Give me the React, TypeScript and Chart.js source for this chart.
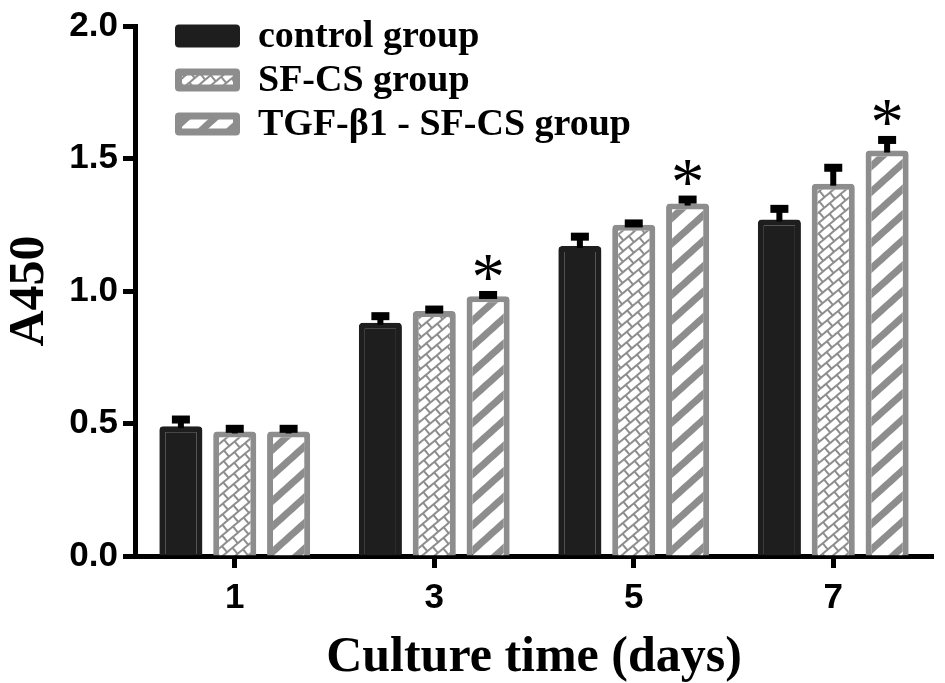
import { useEffect, useRef } from "react"
import { Chart, registerables } from "chart.js"

Chart.register(...registerables)

// values (A450 by culture day)
const days = ["1", "3", "5", "7"]
const groupNames = ["control group", "SF-CS group", "TGF-β1 - SF-CS group"]
const controlValues = [0.49, 0.88, 1.17, 1.27]
const controlErrors = [0.025, 0.025, 0.035, 0.04]
const sfcsValues = [0.47, 0.925, 1.25, 1.405]
const sfcsErrors = [0.01, 0.005, 0.005, 0.06]
const tgfValues = [0.47, 0.98, 1.33, 1.53]
const tgfErrors = [0.01, 0.005, 0.015, 0.04]
const tgfSignificant = [false, true, true, true]

const GRAY = "#8d8d8d"
const DARK = "#1e1e1e"
const SERIF = "'Liberation Serif', 'Times New Roman', serif"
const SANS = "'Liberation Sans', Arial, sans-serif"

function makeBrick(ctx: CanvasRenderingContext2D) {
  const t = document.createElement("canvas")
  t.width = 14
  t.height = 16
  const c = t.getContext("2d")!
  c.fillStyle = "#fff"
  c.fillRect(0, 0, 14, 16)
  c.fillStyle = GRAY
  c.fillRect(0, 0, 14, 2)
  c.fillRect(0, 8, 14, 2)
  c.fillRect(0, 0, 2, 8)
  c.fillRect(7, 8, 2, 8)
  const p = ctx.createPattern(t, "repeat")!
  p.setTransform(new DOMMatrix().rotate(-40))
  return p
}

function makeStripes(ctx: CanvasRenderingContext2D) {
  const t = document.createElement("canvas")
  t.width = 4
  t.height = 19
  const c = t.getContext("2d")!
  c.fillStyle = "#fff"
  c.fillRect(0, 0, 4, 19)
  c.fillStyle = GRAY
  c.fillRect(0, 0, 4, 7)
  const p = ctx.createPattern(t, "repeat")!
  p.setTransform(new DOMMatrix().rotate(-42))
  return p
}

export default function App() {
  const chartRef = useRef<HTMLCanvasElement>(null)
  const chartInstance = useRef<Chart | null>(null)

  useEffect(() => {
    if (!chartRef.current) return
    const ctx = chartRef.current.getContext("2d")
    if (!ctx) return

    const brick = makeBrick(ctx)
    const stripes = makeStripes(ctx)
    const errors = [controlErrors, sfcsErrors, tgfErrors]
    const fills: (string | CanvasPattern)[] = [DARK, brick, stripes]
    const borders = [DARK, GRAY, GRAY]

    const errorBars = {
      id: "errorBars",
      afterDatasetsDraw(chart: Chart) {
        const c = chart.ctx
        const y = chart.scales.y
        c.save()
        chart.data.datasets.forEach((ds, i) => {
          const meta = chart.getDatasetMeta(i)
          meta.data.forEach((bar: any, j: number) => {
            const v = ds.data[j] as number
            const top = y.getPixelForValue(v + errors[i][j])
            const base = y.getPixelForValue(v)
            c.fillStyle = "#000"
            c.fillRect(bar.x - 3, top, 6, base - top + 2)
            c.fillRect(bar.x - 9, top - 4, 18, 8)
            if (i === 2 && tgfSignificant[j]) {
              c.font = `100px ${SERIF}`
              const m0 = c.measureText("*")
              const size = (100 * 28) / (m0.actualBoundingBoxLeft + m0.actualBoundingBoxRight)
              c.font = `${size}px ${SERIF}`
              const m = c.measureText("*")
              const cy = top - 27
              c.textAlign = "center"
              c.textBaseline = "alphabetic"
              c.fillText("*", bar.x, cy - (m.actualBoundingBoxDescent - m.actualBoundingBoxAscent) / 2)
            }
          })
        })
        c.restore()
      },
    }

    const legendBoxes = {
      id: "legendBoxes",
      afterDraw(chart: Chart) {
        const c = chart.ctx
        c.save()
        const rows = [36, 80, 124]
        groupNames.forEach((name, i) => {
          const cy = rows[i]
          const x = 175
          const w = 65
          const h = 23
          c.beginPath()
          c.roundRect(x, cy - h / 2, w, h, 4)
          c.fillStyle = i === 0 ? DARK : GRAY
          c.fill()
          if (i > 0) {
            c.fillStyle = fills[i]
            c.fillRect(x + 7, cy - h / 2 + 7, w - 14, h - 14)
          }
          c.fillStyle = "#000"
          c.font = `bold 38px ${SERIF}`
          c.textAlign = "left"
          c.textBaseline = "middle"
          c.fillText(name, 258, cy + 1)
        })
        c.restore()
      },
    }

    if (chartInstance.current) chartInstance.current.destroy()

    chartInstance.current = new Chart(ctx, {
      type: "bar",
      data: {
        labels: days,
        datasets: [controlValues, sfcsValues, tgfValues].map((vals, i) => ({
          label: groupNames[i],
          data: vals,
          backgroundColor: fills[i],
          borderColor: borders[i],
          borderWidth: 6,
          borderRadius: 4,
          borderSkipped: "start" as const,
          barPercentage: 0.8,
          categoryPercentage: 0.81,
        })),
      },
      options: {
        animation: false,
        responsive: true,
        maintainAspectRatio: false,
        layout: { padding: { left: 0, right: 12, top: 25, bottom: 0 } },
        plugins: {
          legend: { display: false },
          tooltip: { enabled: false },
        },
        scales: {
          x: {
            afterFit: (scale) => {
              scale.height = 127
            },
            grid: {
              offset: false,
              drawOnChartArea: false,
              drawTicks: true,
              tickLength: 12,
              tickWidth: 5,
              tickColor: "#000",
            },
            border: { display: true, color: "#000", width: 5 },
            ticks: {
              color: "#000",
              font: { family: SANS, size: 35, weight: "bold" },
              padding: 9,
            },
            title: {
              display: true,
              text: "Culture time (days)",
              color: "#000",
              font: { family: SERIF, size: 50, weight: "bold", lineHeight: 1 },
              padding: { top: 8, bottom: 0 },
            },
          },
          y: {
            min: 0,
            max: 2,
            afterFit: (scale) => {
              scale.width = 135
            },
            grid: {
              drawOnChartArea: false,
              drawTicks: true,
              tickLength: 12,
              tickWidth: 5,
              tickColor: "#000",
            },
            border: { display: true, color: "#000", width: 5 },
            ticks: {
              stepSize: 0.5,
              color: "#000",
              font: { family: SANS, size: 35, weight: "bold" },
              padding: 5,
              callback: (v) => Number(v).toFixed(1),
            },
            title: {
              display: true,
              text: "A450",
              color: "#000",
              font: { family: SERIF, size: 50, weight: "bold", lineHeight: 1 },
              padding: { top: 5, bottom: 0 },
            },
          },
        },
      },
      plugins: [errorBars, legendBoxes],
    })

    return () => {
      if (chartInstance.current) {
        chartInstance.current.destroy()
        chartInstance.current = null
      }
    }
  }, [])

  return (
    <div style={{ position: "fixed", left: 0, top: 0, width: 945, height: 683, background: "#fff" }}>
      <canvas ref={chartRef}></canvas>
    </div>
  )
}
